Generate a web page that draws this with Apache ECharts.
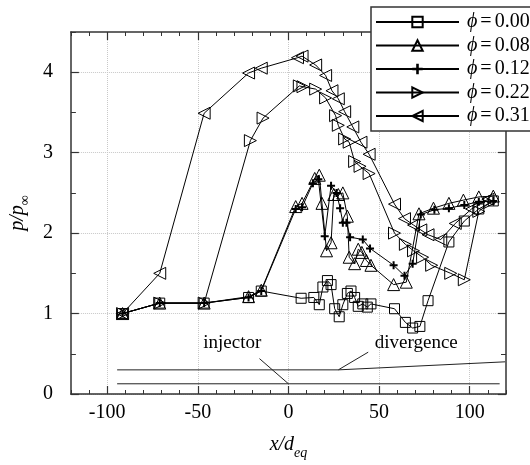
<!DOCTYPE html>
<html>
<head>
<meta charset="utf-8">
<script src="https://cdn.jsdelivr.net/npm/echarts@6.0.0/dist/echarts.min.js"></script>
<style>
  html, body { margin: 0; padding: 0; background: #fff; }
  #main { width: 530px; height: 465px; }
</style>
</head>
<body>
<div id="main"></div>
<script>
// values: x/d_eq and p/p_inf per equivalence ratio
const x000 = [-91.5, -71, -46.5, -22, -15, 7, 14, 17, 19, 21.5, 23.5, 25.5, 28, 30, 32.5, 34.5, 36.5, 38.5, 41, 43.5, 45.5, 58.5, 64.5, 68.5, 72.5, 77, 88.5, 97, 105, 113];
const p000 = [1.0, 1.13, 1.13, 1.2, 1.28, 1.19, 1.2, 1.11, 1.33, 1.41, 1.36, 1.06, 0.96, 1.11, 1.25, 1.28, 1.2, 1.09, 1.12, 1.08, 1.12, 1.06, 0.89, 0.82, 0.84, 1.16, 1.89, 2.15, 2.3, 2.4];

const x008 = [-91.5, -71, -46.5, -22, -15, 4, 7.5, 14.5, 17, 18.5, 21, 23.5, 25, 27.5, 30, 32.5, 33.5, 36.5, 38.5, 40.5, 43, 45.5, 58, 65, 72, 80, 88.5, 96.5, 105, 113];
const p008 = [1.0, 1.13, 1.13, 1.21, 1.29, 2.33, 2.37, 2.68, 2.72, 2.37, 1.78, 1.88, 2.48, 2.48, 2.5, 2.21, 1.7, 1.62, 1.8, 1.76, 1.66, 1.6, 1.36, 1.39, 2.24, 2.31, 2.37, 2.41, 2.45, 2.46];

const x012 = [-91.5, -71, -46.5, -22, -15, 4, 7.5, 13.5, 16.5, 20, 23.5, 26.5, 28.5, 30, 32, 34, 41, 45, 58, 64, 68.5, 73, 80.5, 88.5, 97, 105, 113];
const p012 = [1.0, 1.13, 1.13, 1.2, 1.28, 2.3, 2.32, 2.62, 2.67, 1.96, 2.59, 2.5, 2.31, 2.13, 2.13, 1.95, 1.92, 1.81, 1.6, 1.47, 1.62, 2.23, 2.29, 2.31, 2.35, 2.39, 2.4];

const x022 = [-91.5, -71, -46.5, -21, -14, 6, 8, 15, 20.5, 26, 27.5, 31, 33.5, 36.5, 39.5, 44.5, 58.5, 64.5, 69, 74, 79, 89.5, 97, 105, 111];
const p022 = [1.0, 1.13, 1.13, 3.15, 3.43, 3.83, 3.82, 3.79, 3.68, 3.46, 3.34, 3.17, 3.13, 2.89, 2.83, 2.74, 2.0, 1.86, 1.78, 1.7, 1.6, 1.5, 1.42, 2.27, 2.38];

const x031 = [-91.5, -71, -46.5, -22, -15, 5, 7.5, 15, 20.5, 24, 27.5, 31, 35.5, 40, 44.5, 58.5, 64, 69, 73, 77, 84, 92, 101, 110];
const p031 = [1.0, 1.5, 3.49, 3.99, 4.05, 4.18, 4.2, 4.09, 3.96, 3.77, 3.67, 3.51, 3.32, 3.13, 2.98, 2.36, 2.18, 2.1, 2.04, 1.98, 1.92, 2.12, 2.3, 2.42];

const phiNames = ['0.00', '0.08', '0.12', '0.22', '0.31'];

// tick labels
const xTicks = [-100, -50, 0, 50, 100];
const yTicks = [0, 1, 2, 3, 4];

// schematic of the duct at the bottom (injector / divergence)
const ductLine1 = [[-94.5, 0.30], [27.5, 0.30], [119.5, 0.40]];
const ductLine2 = [[-94.5, 0.127], [116.5, 0.127]];
const injectorLeader = [[-16, 0.44], [0, 0.127]];
const divergenceLeader = [[44, 0.52], [27.5, 0.30]];
const injectorText = [-31, 0.63];
const divergenceText = [70.5, 0.63];

const serif = 'Liberation Serif';
const ink = '#000';
const axisInk = '#333';

function pairs(xs, ys) {
  return xs.map((x, i) => [x, ys[i]]);
}

function phiSeries(name, xs, ys, symbol, size, filled) {
  return {
    name: name,
    type: 'line',
    data: pairs(xs, ys),
    symbol: symbol,
    symbolSize: size,
    showAllSymbol: true,
    lineStyle: { color: ink, width: 1 },
    itemStyle: filled
      ? { color: ink, borderWidth: 0 }
      : { color: 'rgba(0,0,0,0)', borderColor: ink, borderWidth: 1 },
    emphasis: { disabled: true },
    z: 3
  };
}

function plainLine(data) {
  return {
    type: 'line',
    data: data,
    symbol: 'none',
    silent: true,
    lineStyle: { color: '#222', width: 1 },
    emphasis: { disabled: true },
    z: 2
  };
}

function textMark(pos, text) {
  return {
    type: 'scatter',
    data: [pos],
    symbolSize: 0,
    silent: true,
    itemStyle: { color: ink, opacity: 1 },
    label: {
      show: true,
      position: 'inside',
      formatter: text,
      fontFamily: serif,
      fontSize: 19,
      color: ink,
      opacity: 1,
      textBorderWidth: 0,
      textBorderColor: 'transparent'
    }
  };
}

const chart = echarts.init(document.getElementById('main'));

function xAxisPart(position, major, withLabels) {
  return {
    type: 'value', min: -120, max: 120, interval: 10, position: position,
    axisLine: { show: major, onZero: false, lineStyle: { color: axisInk, width: 1.5 } },
    axisTick: major
      ? { show: true, inside: true, length: 8, customValues: xTicks, lineStyle: { color: axisInk, width: 1.2 } }
      : { show: true, inside: true, length: 4, lineStyle: { color: axisInk, width: 1 } },
    axisLabel: withLabels
      ? { show: true, customValues: xTicks, margin: 9, fontFamily: serif, fontSize: 20, color: ink }
      : { show: false },
    splitLine: withLabels
      ? { show: true, lineStyle: { type: 'dotted', color: '#c8c8c8', width: 1 } }
      : { show: false }
  };
}

function yAxisPart(position, major, withLabels) {
  return {
    type: 'value', min: 0, max: 4.5, interval: 0.5, position: position,
    axisLine: { show: major, onZero: false, lineStyle: { color: axisInk, width: 1.5 } },
    axisTick: major
      ? { show: true, inside: true, length: 8, customValues: yTicks, lineStyle: { color: axisInk, width: 1.2 } }
      : { show: true, inside: true, length: 5, lineStyle: { color: axisInk, width: 1 } },
    axisLabel: withLabels
      ? { show: true, customValues: yTicks, margin: 18, fontFamily: serif, fontSize: 20, color: ink }
      : { show: false },
    splitLine: withLabels
      ? { show: true, lineStyle: { type: 'dotted', color: '#c8c8c8', width: 1 } }
      : { show: false }
  };
}

const xBottom = xAxisPart('bottom', true, true);
xBottom.name = '{i|x/d}{s|eq}';
xBottom.nameLocation = 'middle';
xBottom.nameGap = 36;
xBottom.nameTextStyle = {
  rich: {
    i: { fontFamily: serif, fontStyle: 'italic', fontSize: 20, color: ink },
    s: { fontFamily: serif, fontStyle: 'italic', fontSize: 14, color: ink, padding: [16, 0, 0, 0] }
  }
};

const yLeft = yAxisPart('left', true, true);
yLeft.name = '{i|p/p}{s|∞}';
yLeft.nameLocation = 'middle';
yLeft.nameGap = 30;
yLeft.nameTextStyle = {
  rich: {
    i: { fontFamily: serif, fontStyle: 'italic', fontSize: 20, color: ink },
    s: { fontFamily: serif, fontSize: 14, color: ink, padding: [14, 0, 0, 0] }
  }
};

chart.setOption({
  animation: false,
  backgroundColor: '#fff',
  textStyle: { fontFamily: serif },
  grid: { left: 68, right: 24, top: 32, bottom: 68, containLabel: false },
  legend: {
    data: phiNames,
    orient: 'vertical',
    left: 371,
    top: 7,
    padding: [4, 4, 4, 4],
    itemWidth: 83,
    itemHeight: 13,
    itemGap: 1.5,
    backgroundColor: '#fff',
    borderColor: axisInk,
    borderWidth: 1.5,
    borderRadius: 0,
    z: 10,
    selectedMode: false,
    formatter: name => '{i|ϕ}{e|=}' + name,
    textStyle: {
      fontFamily: serif,
      fontSize: 20,
      lineHeight: 22,
      color: ink,
      rich: {
        i: { fontFamily: serif, fontStyle: 'italic', fontSize: 20, color: ink, padding: [0, 0, 0, 3] },
        e: { fontFamily: serif, fontSize: 20, color: ink, padding: [0, 3, 0, 3] }
      }
    }
  },
  xAxis: [
    xBottom,
    xAxisPart('bottom', false, false),
    xAxisPart('top', true, false),
    xAxisPart('top', false, false)
  ],
  yAxis: [
    yLeft,
    yAxisPart('left', false, false),
    yAxisPart('right', true, false),
    yAxisPart('right', false, false)
  ],
  series: [
    plainLine(ductLine1),
    plainLine(ductLine2),
    plainLine(injectorLeader),
    plainLine(divergenceLeader),
    textMark(injectorText, 'injector'),
    textMark(divergenceText, 'divergence'),
    phiSeries('0.00', x000, p000, 'rect', 10, false),
    phiSeries('0.08', x008, p008, 'triangle', 12, false),
    phiSeries('0.12', x012, p012, 'path://M3,0H5V3H8V5H5V8H3V5H0V3H3Z', 8, true),
    phiSeries('0.22', x022, p022, 'path://M0,0L10,5L0,10Z', 12, false),
    phiSeries('0.31', x031, p031, 'path://M10,0L0,5L10,10Z', 12, false)
  ]
});
</script>
</body>
</html>
